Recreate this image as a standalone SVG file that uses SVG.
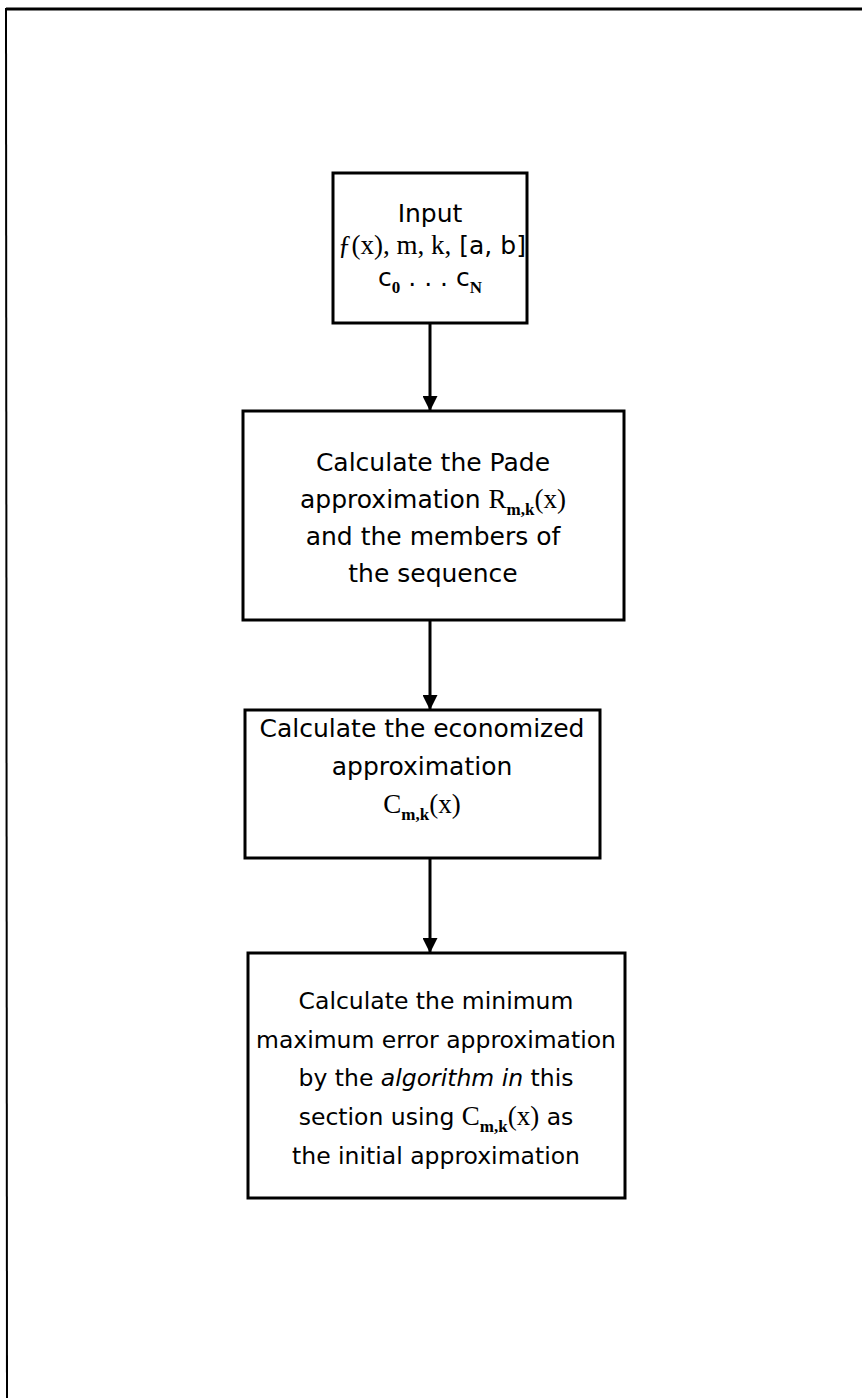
<svg xmlns="http://www.w3.org/2000/svg" width="862" height="1398" viewBox="0 0 862 1398">
<defs>
<style>
.box{fill:#fff;stroke:#000;stroke-width:3}
.frame{fill:none;stroke:#000}
.t{font-family:"DejaVu Sans","Liberation Sans",sans-serif;font-size:25px;fill:#000;text-anchor:middle}
.s{font-size:23.5px}
.m{font-family:"Liberation Serif","DejaVu Serif",serif;font-size:27px}
.sb{font-family:"Liberation Serif","DejaVu Serif",serif;font-size:17px;font-weight:bold}
.it{font-style:italic}
.conn{stroke:#000;stroke-width:3;fill:none}
</style>
<marker id="ah" viewBox="0 0 10 10" refX="10" refY="5" markerWidth="5" markerHeight="5" markerUnits="strokeWidth" orient="auto">
<path d="M0,0 L10,5 L0,10 z" fill="#000"/>
</marker>
</defs>
<rect width="862" height="1398" fill="#fff"/>
<g id="frame">
<line class="frame" x1="6" y1="9" x2="862" y2="9" stroke-width="3"/>
<line class="frame" x1="6" y1="8" x2="7" y2="1398" stroke-width="2"/>
</g>
<g id="connectors">
<line class="conn" x1="430" y1="323" x2="430" y2="411" marker-end="url(#ah)"/>
<line class="conn" x1="430" y1="620" x2="430" y2="710" marker-end="url(#ah)"/>
<line class="conn" x1="430" y1="858" x2="430" y2="953" marker-end="url(#ah)"/>
</g>
<g id="input">
<rect class="box" x="333" y="173" width="194" height="150"/>
<text class="t" x="430" y="222">Input</text>
<text class="t" x="432" y="254"><tspan class="m">ƒ(x), m, k,</tspan>  [a, b]</text>
<text class="t" x="430" y="286" font-size="20">c<tspan class="sb" dy="7">0</tspan><tspan dy="-7"> . . .  c</tspan><tspan class="sb" dy="7">N</tspan></text>
</g>
<g id="pade">
<rect class="box" x="243" y="411" width="381" height="209"/>
<text class="t" x="433" y="471">Calculate the Pade</text>
<text class="t" x="433" y="508">approximation  <tspan class="m">R</tspan><tspan class="sb" dy="7">m,k</tspan><tspan class="m" dy="-7">(x)</tspan></text>
<text class="t" x="433" y="545">and the members of</text>
<text class="t" x="433" y="582">the sequence</text>
</g>
<g id="economized">
<rect class="box" x="245" y="710" width="355" height="148"/>
<text class="t" x="422" y="737">Calculate the economized</text>
<text class="t" x="422" y="775">approximation</text>
<text class="t" x="422" y="813"><tspan class="m">C</tspan><tspan class="sb" dy="7">m,k</tspan><tspan class="m" dy="-7">(x)</tspan></text>
</g>
<g id="minimax">
<rect class="box" x="248" y="953" width="377" height="245"/>
<text class="t s" x="436" y="1009">Calculate the minimum</text>
<text class="t s" x="436" y="1048">maximum error approximation</text>
<text class="t s" x="436" y="1086">by the <tspan class="it">algorithm in</tspan> this</text>
<text class="t s" x="436" y="1125">section using  <tspan class="m">C</tspan><tspan class="sb" dy="7">m,k</tspan><tspan class="m" dy="-7">(x)</tspan> as</text>
<text class="t s" x="436" y="1164">the initial approximation</text>
</g>
</svg>
